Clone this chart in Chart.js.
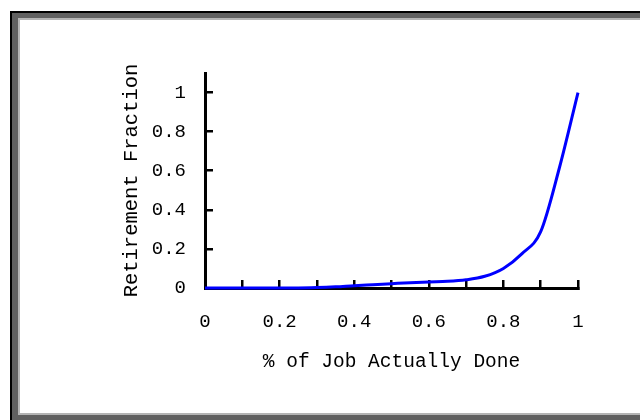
<!DOCTYPE html>
<html>
<head>
<meta charset="utf-8">
<script src="https://cdn.jsdelivr.net/npm/chart.js@4"></script>
<style>
    body { margin: 0; width: 640px; height: 420px; overflow: hidden; background: #fff; position: relative; }
    .f { position: absolute; }
    #f1 { left: 10px; top: 11px; width: 700px; height: 500px; background: #000; }
    #f2 { left: 12px; top: 13px; width: 700px; height: 500px; background: #606060; }
    #f3 { left: 18px; top: 18px; width: 700px; height: 397px; background: #b4b4b4; }
    #f4 { left: 20px; top: 20px; width: 700px; height: 393px; background: #fff; }
    #wrap { position: absolute; left: 0; top: 0; width: 640px; height: 420px; }
</style>
</head>
<body>
<div class="f" id="f1"></div>
<div class="f" id="f2"></div>
<div class="f" id="f3"></div>
<div class="f" id="f4"></div>
<div id="wrap"><canvas id="myChart" width="640" height="420"></canvas></div>
<script>
const jobDone = [0, 0.05, 0.1, 0.15, 0.2, 0.25, 0.3, 0.35, 0.4, 0.45, 0.5, 0.55, 0.6, 0.65, 0.7, 0.75, 0.8, 0.85, 0.9, 0.95, 1];
const retirement = [0, 0, 0, 0, 0, 0, 0.002, 0.006, 0.012, 0.017, 0.022, 0.027, 0.031, 0.034, 0.042, 0.06, 0.1, 0.176, 0.288, 0.614, 1];
const xTickValues = [0, 0.1, 0.2, 0.3, 0.4, 0.5, 0.6, 0.7, 0.8, 0.9, 1];
const xTickLabels = ['0', '', '0.2', '', '0.4', '', '0.6', '', '0.8', '', '1'];
const yTickValues = [0, 0.2, 0.4, 0.6, 0.8, 1];
const yTickLabels = ['0', '0.2', '0.4', '0.6', '0.8', '1'];

const ctx = document.querySelector('#myChart').getContext('2d');
const mono = 'Liberation Mono';

let points = jobDone.map((x, i) => ({ x: x, y: retirement[i] }));

let config = {
    type: 'line',
    data: {
        datasets: [{
            data: points,
            borderColor: '#0000ff',
            borderWidth: 3,
            pointRadius: 0,
            cubicInterpolationMode: 'monotone',
            clip: false
        }]
    },
    options: {
        responsive: false,
        animation: false,
        layout: { padding: { left: 100, right: 62, top: 73, bottom: 0 } },
        plugins: { legend: { display: false }, tooltip: { enabled: false } },
        scales: {
            x: {
                type: 'linear',
                min: 0,
                max: 1,
                afterFit: s => { s.height = 132; },
                afterBuildTicks: s => { s.ticks = xTickValues.map(v => ({ value: v })); },
                grid: { drawOnChartArea: false, tickLength: -8, color: '#000', lineWidth: 2.5 },
                border: { color: '#000', width: 3 },
                ticks: {
                    padding: 31,
                    maxRotation: 0,
                    autoSkip: false,
                    color: '#000',
                    font: { family: mono, size: 19 },
                    callback: (v, i) => xTickLabels[i]
                },
                title: {
                    display: true,
                    text: '% of Job Actually Done',
                    color: '#000',
                    font: { family: mono, size: 19.5 },
                    padding: { top: 0, bottom: 46 }
                }
            },
            y: {
                min: 0,
                max: 1.1,
                afterFit: s => { s.width = 105; },
                afterBuildTicks: s => { s.ticks = yTickValues.map(v => ({ value: v })); },
                grid: { drawOnChartArea: false, tickLength: -8, color: '#000', lineWidth: 2.5 },
                border: { color: '#000', width: 3 },
                ticks: {
                    padding: 27,
                    autoSkip: false,
                    color: '#000',
                    font: { family: mono, size: 19 },
                    callback: (v, i) => yTickLabels[i]
                },
                title: {
                    display: true,
                    text: 'Retirement Fraction',
                    color: '#000',
                    font: { family: mono, size: 20.5 },
                    padding: { top: 19, bottom: 0 }
                }
            }
        }
    }
};

window.chart = new Chart(ctx, config);
</script>
</body>
</html>
